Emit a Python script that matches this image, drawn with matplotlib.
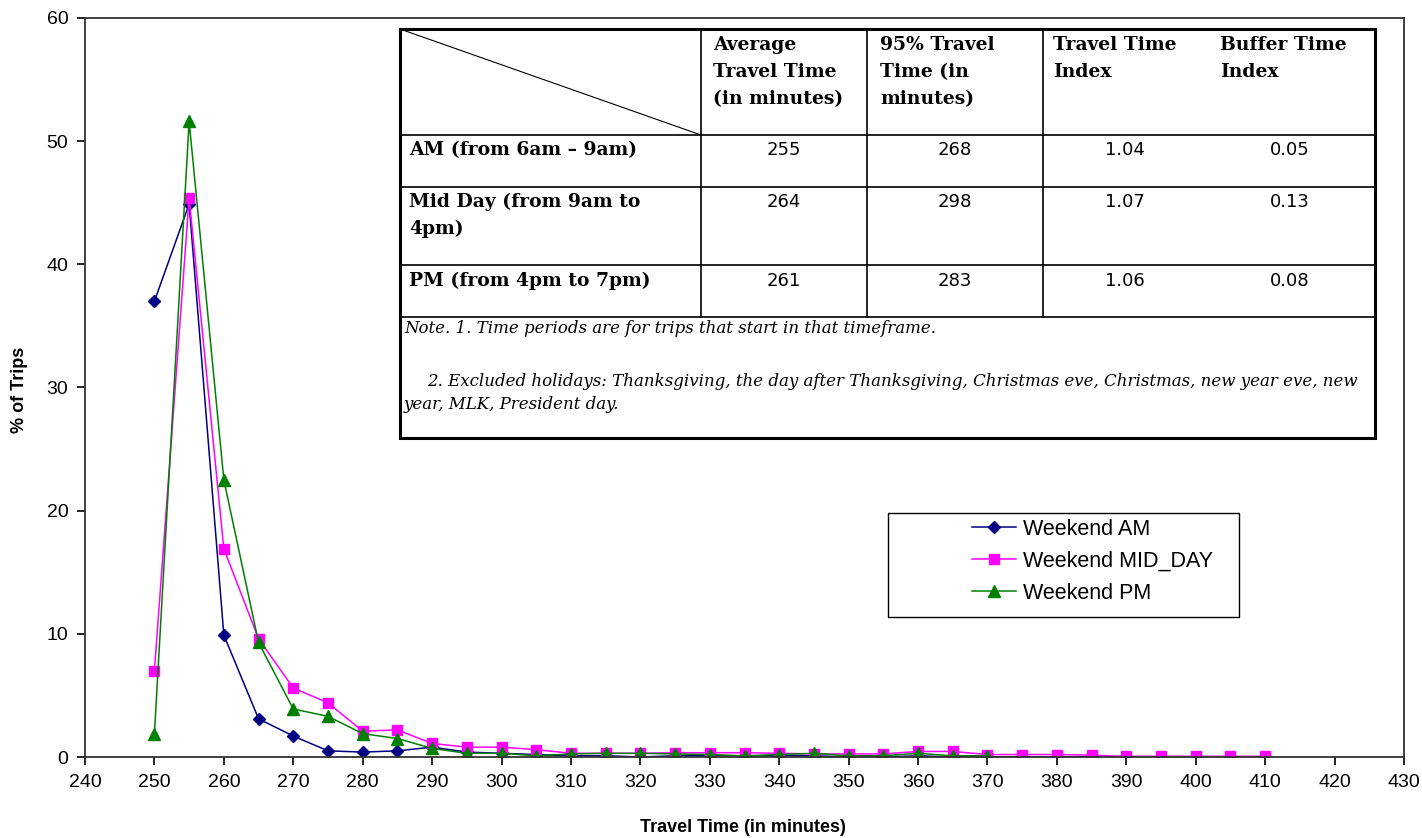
import matplotlib.pyplot as plt
from matplotlib.patches import Rectangle

# Travel time bins (minutes) and % of trips per series
am_x = [250, 255, 260, 265, 270, 275, 280, 285, 290, 295, 300, 305, 310, 315, 320,
        325, 330, 335, 340, 345, 350, 355, 360, 365, 370, 375, 380, 385]
am_y = [37.0, 44.9, 9.9, 3.1, 1.7, 0.5, 0.4, 0.5, 0.8, 0.4, 0.3, 0.2, 0.1, 0.1, 0.0,
        0.1, 0.1, 0.1, 0.1, 0.1, 0.0, 0.0, 0.1, 0.0, 0.0, 0.0, 0.0, 0.0]

mid_x = [250, 255, 260, 265, 270, 275, 280, 285, 290, 295, 300, 305, 310, 315, 320,
         325, 330, 335, 340, 345, 350, 355, 360, 365, 370, 375, 380, 385, 390, 395,
         400, 405, 410]
mid_y = [7.0, 45.4, 16.9, 9.6, 5.6, 4.4, 2.1, 2.2, 1.1, 0.8, 0.8, 0.6, 0.3, 0.3, 0.3,
         0.35, 0.35, 0.35, 0.3, 0.25, 0.25, 0.25, 0.45, 0.45, 0.2, 0.2, 0.2, 0.15, 0.05, 0.05,
         0.05, 0.05, 0.05]

pm_x = [250, 255, 260, 265, 270, 275, 280, 285, 290, 295, 300, 305, 310, 315, 320,
        325, 330, 335, 340, 345, 350, 355, 360, 365, 370]
pm_y = [1.9, 51.6, 22.5, 9.3, 3.9, 3.3, 1.9, 1.5, 0.7, 0.3, 0.3, 0.1, 0.25, 0.3, 0.3,
        0.25, 0.2, 0.1, 0.2, 0.3, 0.1, 0.1, 0.3, 0.1, 0.1]

# Summary table contents
col_headers = [["Average", "Travel Time", "(in minutes)"],
               ["95% Travel", "Time (in", "minutes)"],
               ["Travel Time", "Index"],
               ["Buffer Time", "Index"]]
row_labels = [["AM (from 6am \u2013 9am)"],
              ["Mid Day (from 9am to", "4pm)"],
              ["PM (from 4pm to 7pm)"]]
avg_time = ["255", "264", "261"]
p95_time = ["268", "298", "283"]
tti = ["1.04", "1.07", "1.06"]
bti = ["0.05", "0.13", "0.08"]
note1 = "Note. 1. Time periods are for trips that start in that timeframe."
note2a = "2. Excluded holidays: Thanksgiving, the day after Thanksgiving, Christmas eve, Christmas, new year eve, new"
note2b = "year, MLK, President day."

W, H = 1422, 838
fig = plt.figure(figsize=(W / 100, H / 100), dpi=100)
plt.rcParams['font.family'] = ['Liberation Sans', 'DejaVu Sans']

# main axes: pixel box 85..1404 x 18..757
ax = fig.add_axes([85 / W, 1 - 757 / H, (1404 - 85) / W, (757 - 18) / H])
ax.plot(am_x, am_y, color='#000080', marker='D', markersize=6.5, lw=1.1, label='Weekend AM')
ax.plot(mid_x, mid_y, color='#FF00FF', marker='s', markersize=7.5, lw=1.1, label='Weekend MID_DAY')
ax.plot(pm_x, pm_y, color='#008000', marker='^', markersize=8.5, lw=1.1, label='Weekend PM')

ax.set_xlim(240, 430)
ax.set_ylim(0, 60)
ax.set_xticks(range(240, 431, 10))
ax.set_yticks(range(0, 61, 10))
ax.tick_params(axis='both', direction='out', length=6, width=1.2, labelsize=14, pad=6)
for s in ax.spines.values():
    s.set_linewidth(1.3)
    s.set_color('#333333')
fig.text(743 / W, 1 - 827 / H, 'Travel Time (in minutes)', fontsize=13, fontweight='bold',
         ha='center', va='center')
fig.text(20 / W, 1 - 390 / H, '% of Trips', fontsize=13, fontweight='bold',
         ha='center', va='center', rotation=90)

# legend: entries without frame, box drawn separately
leg = ax.legend(loc='upper left', bbox_to_anchor=(972 / W, 1 - 519 / H), bbox_transform=fig.transFigure,
                fontsize=15.5, frameon=False, handlelength=2.05, borderpad=0, labelspacing=0.5,
                handletextpad=0.3, borderaxespad=0)

# table and legend box drawn in pixel coordinates on an overlay axes
tab = fig.add_axes([0, 0, 1, 1], facecolor='none')
tab.set_xlim(0, W)
tab.set_ylim(H, 0)
tab.axis('off')

tab.add_patch(Rectangle((888, 513), 1239 - 888, 617 - 513, facecolor='none', edgecolor='black', lw=1.0))

L, R, T, B = 400, 1375, 29, 438
tab.add_patch(Rectangle((L, T), R - L, B - T, facecolor='white', edgecolor='black', lw=2.2, zorder=1))
for y in [135, 187, 265, 317]:
    tab.plot([L, R], [y, y], color='black', lw=1.2, zorder=2)
for x in [701, 867, 1043]:
    tab.plot([x, x], [T, 317], color='black', lw=1.2, zorder=2)
tab.plot([L, 701], [T, 135], color='black', lw=0.8, zorder=2)

serif = ['DejaVu Serif']
head_x = [713, 880, 1053, 1220]
for hx, lines in zip(head_x, col_headers):
    for i, t in enumerate(lines):
        tab.text(hx, 45 + 27 * i, t, family=serif, fontsize=13.5, fontweight='bold', va='center', ha='left')

row_y = [150, 202, 281]
for ry, lines in zip(row_y, row_labels):
    for i, t in enumerate(lines):
        tab.text(409, ry + 27 * i, t, family=serif, fontsize=13.5, fontweight='bold', va='center', ha='left')

for vals, cx in zip([avg_time, p95_time, tti, bti], [784, 955, 1125, 1290]):
    for ry, v in zip(row_y, vals):
        tab.text(cx, ry, v, family=['DejaVu Sans'], fontsize=13, va='center', ha='center')

tab.text(404, 328, note1, family=serif, fontsize=12, style='italic', va='center', ha='left')
tab.text(427, 381, note2a, family=serif, fontsize=12, style='italic', va='center', ha='left')
tab.text(404, 404, note2b, family=serif, fontsize=12, style='italic', va='center', ha='left')

fig.savefig('out.png', dpi=100)
